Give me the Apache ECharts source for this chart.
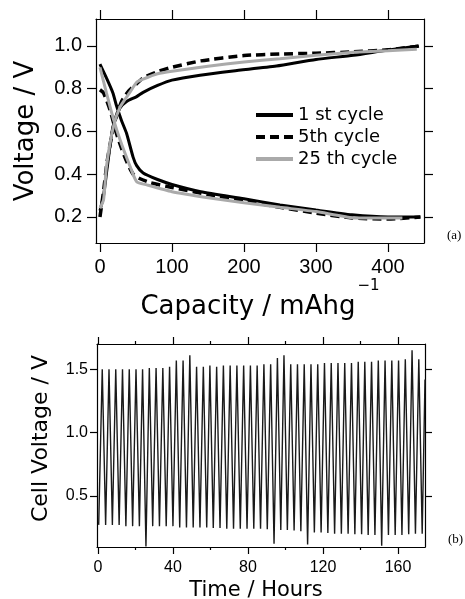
<!DOCTYPE html>
<html>
<head>
<meta charset="utf-8">
<script src="https://cdn.jsdelivr.net/npm/echarts@6/dist/echarts.min.js"></script>
<style>
html,body{margin:0;padding:0;background:#fff;}
#c{width:465px;height:599px;}
</style>
</head>
<body>
<div id="c"></div>
<script>
// ---------- Panel (a): voltage vs capacity ----------
const capTicks = [0, 100, 200, 300, 400];
const voltTicks = [0.2, 0.4, 0.6, 0.8, 1.0];

const charge1Cap = [0, 5, 10, 18, 28, 37, 51, 60, 80, 100, 139, 185, 245, 300, 352, 393, 442];
const charge1V   = [0.23, 0.3, 0.43, 0.62, 0.71, 0.74, 0.763, 0.783, 0.815, 0.84, 0.863, 0.883, 0.906, 0.937, 0.956, 0.977, 1.0];
const charge5Cap = [0, 5, 10, 20, 30, 40, 50, 60, 80, 100, 140, 200, 250, 300, 350, 400, 445];
const charge5V   = [0.2, 0.32, 0.46, 0.64, 0.74, 0.79, 0.82, 0.85, 0.88, 0.9, 0.93, 0.955, 0.962, 0.966, 0.972, 0.982, 1.0];
const charge25Cap = [0, 5, 9, 18.5, 28, 42, 51, 60, 80, 100, 150, 200, 250, 300, 352, 400, 440];
const charge25V   = [0.24, 0.28, 0.435, 0.62, 0.715, 0.785, 0.83, 0.845, 0.87, 0.882, 0.905, 0.925, 0.94, 0.956, 0.97, 0.978, 0.985];

const dis1Cap = [0, 9, 18, 23, 30, 37, 46, 51, 60, 80, 100, 140, 200, 250, 300, 350, 400, 445];
const dis1V   = [0.915, 0.85, 0.78, 0.72, 0.65, 0.59, 0.48, 0.44, 0.405, 0.375, 0.352, 0.318, 0.285, 0.256, 0.232, 0.21, 0.2, 0.2];
const dis5Cap = [0, 5, 14, 23, 30, 37, 46, 55, 70, 100, 150, 200, 250, 300, 350, 400, 445];
const dis5V   = [0.795, 0.78, 0.7, 0.59, 0.52, 0.46, 0.4, 0.38, 0.36, 0.338, 0.305, 0.275, 0.245, 0.218, 0.195, 0.19, 0.2];
const dis25Cap = [0, 9, 18.5, 28, 42, 51, 65, 100, 150, 200, 250, 300, 356, 420];
const dis25V   = [0.9, 0.78, 0.66, 0.56, 0.435, 0.365, 0.35, 0.318, 0.29, 0.266, 0.245, 0.225, 0.195, 0.195];

const cycleNames = ['1 st cycle', '5th cycle', '25 th cycle'];

// ---------- Panel (b): cell voltage vs time ----------
const timeTicks = [0, 40, 80, 120, 160];
const timeMinorTicks = [20, 60, 100, 140];
const cellTicks = [0.5, 1.0, 1.5];

const startPoint = [0.4, 0.27];
const endPoint = [174.4, 1.42];
const peakT = [2.3, 5.9, 9.5, 13.1, 16.7, 20.3, 23.8, 27.4, 31.0, 34.6, 38.2, 41.8, 45.4, 49.0, 52.6, 56.2,
  59.7, 63.3, 66.9, 70.5, 74.1, 77.7, 81.3, 84.9, 88.5, 92.1, 95.7, 99.2, 102.8, 106.4, 110.0, 113.6,
  117.2, 120.8, 124.4, 128.0, 131.6, 135.2, 138.8, 142.3, 145.9, 149.5, 153.1, 156.7, 160.3, 163.9, 167.5, 171.1];
const peakV = [1.50, 1.50, 1.50, 1.50, 1.50, 1.50, 1.50, 1.51, 1.51, 1.51, 1.52, 1.57, 1.57, 1.61, 1.52, 1.52,
  1.53, 1.52, 1.53, 1.53, 1.53, 1.53, 1.53, 1.53, 1.54, 1.54, 1.59, 1.61, 1.54, 1.54, 1.54, 1.54,
  1.54, 1.55, 1.55, 1.55, 1.55, 1.55, 1.56, 1.56, 1.56, 1.57, 1.57, 1.57, 1.57, 1.58, 1.65, 1.58];
const troughT = [4.1, 7.7, 11.3, 14.9, 18.5, 22.1, 25.6, 29.2, 32.8, 36.4, 40.0, 43.6, 47.2, 50.8, 54.4, 58.0,
  61.5, 65.1, 68.7, 72.3, 75.9, 79.5, 83.1, 86.7, 90.3, 93.9, 97.5, 101.0, 104.6, 108.2, 111.8, 115.4,
  119.0, 122.6, 126.2, 129.8, 133.4, 137.0, 140.6, 144.1, 147.7, 151.3, 154.9, 158.5, 162.1, 165.7, 169.3, 172.9];
const troughV = [0.27, 0.27, 0.27, 0.26, 0.26, 0.26, 0.10, 0.26, 0.26, 0.26, 0.26, 0.25, 0.25, 0.25, 0.25, 0.25,
  0.245, 0.245, 0.24, 0.24, 0.24, 0.24, 0.24, 0.24, 0.235, 0.12, 0.23, 0.23, 0.225, 0.22, 0.115, 0.21,
  0.21, 0.205, 0.2, 0.2, 0.2, 0.195, 0.195, 0.19, 0.19, 0.105, 0.19, 0.19, 0.19, 0.195, 0.2, 0.2];

// ---------- build ----------
function pairs(xs, ys) { return xs.map((x, i) => [x, ys[i]]); }
const cellData = [startPoint];
for (let i = 0; i < peakT.length; i++) {
  cellData.push([peakT[i], peakV[i]]);
  cellData.push([troughT[i], troughV[i]]);
}
cellData.push(endPoint);

const TF = "'Liberation Sans', Arial, sans-serif";
const NF = "'DejaVu Sans', Verdana, sans-serif";
const lineC = '#000';

function frameAxis(extra) {
  return Object.assign({
    type: 'value',
    splitLine: { show: false },
    axisLine: { show: true, onZero: false, lineStyle: { color: lineC, width: 1.2 } },
    axisTick: { show: true, inside: false, lineStyle: { color: lineC, width: 1.2 } },
    axisLabel: { show: false },
    nameMoveOverlap: false
  }, extra);
}

const styles = [
  { color: '#000', width: 3, type: 'solid' },
  { color: '#000', width: 3.5, type: [9, 5] },
  { color: '#aaaaaa', width: 3, type: 'solid' }
];
const chargeSets = [pairs(charge1Cap, charge1V), pairs(charge5Cap, charge5V), pairs(charge25Cap, charge25V)];
const disSets = [pairs(dis1Cap, dis1V), pairs(dis5Cap, dis5V), pairs(dis25Cap, dis25V)];

const series = [];
for (let k = 0; k < 3; k++) {
  [chargeSets[k], disSets[k]].forEach(d => {
    series.push({
      name: cycleNames[k], type: 'line', xAxisIndex: 0, yAxisIndex: 0,
      data: d, showSymbol: false, symbol: 'none', smooth: 0.2,
      lineStyle: { color: styles[k].color, width: styles[k].width, type: styles[k].type },
      itemStyle: { color: styles[k].color },
      z: 2 + k
    });
  });
}
series.push({
  name: 'cell', type: 'line', xAxisIndex: 2, yAxisIndex: 2,
  data: cellData, showSymbol: false, symbol: 'none',
  lineStyle: { color: '#1a1a1a', width: 1.4 }, z: 2
});

const option = {
  animation: false,
  backgroundColor: '#fff',
  grid: [
    { left: 96, top: 19, width: 328, height: 224, outerBoundsMode: 'none', containLabel: false },
    { left: 97, top: 344, width: 328, height: 203, outerBoundsMode: 'none', containLabel: false }
  ],
  legend: {
    data: cycleNames, orient: 'vertical', left: 249, top: 101,
    itemWidth: 37, itemHeight: 14, itemGap: 4,
    itemStyle: { opacity: 0 },
    lineStyle: { width: 4 },
    textStyle: { fontFamily: NF, fontSize: 18, color: '#000' }
  },
  xAxis: [
    frameAxis({
      gridIndex: 0, position: 'bottom', min: -5.5, max: 450,
      axisTick: { show: true, inside: false, length: 9, customValues: capTicks, lineStyle: { color: lineC, width: 1.2 } },
      axisLabel: { show: true, customValues: capTicks, margin: 14, fontFamily: TF, fontSize: 20, color: '#000' },
      name: '{m|Capacity / mAhg}{s|−1}', nameLocation: 'middle', nameGap: 35,
      nameTextStyle: {
        fontFamily: NF, fontSize: 26, color: '#000',
        rich: {
          m: { fontFamily: NF, fontSize: 26, lineHeight: 28, verticalAlign: 'bottom', color: '#000' },
          s: { fontFamily: NF, fontSize: 15, lineHeight: 42, verticalAlign: 'top', padding: [1, 0, 22, 2], color: '#000' }
        }
      }
    }),
    frameAxis({
      gridIndex: 0, position: 'top', min: -5.5, max: 450,
      axisTick: { show: true, inside: false, length: 9, customValues: capTicks, lineStyle: { color: lineC, width: 1.2 } }
    }),
    frameAxis({
      gridIndex: 1, position: 'bottom', min: -0.5, max: 174.4,
      axisTick: { show: true, inside: false, length: 7, customValues: timeTicks, lineStyle: { color: lineC, width: 1.2 } },
      axisLabel: { show: true, customValues: timeTicks, margin: 13, fontFamily: TF, fontSize: 16, color: '#000' },
      name: 'Time / Hours', nameLocation: 'middle', nameGap: 33,
      nameTextStyle: { fontFamily: NF, fontSize: 21, color: '#000', padding: [0, 10, 0, 0] }
    }),
    frameAxis({
      gridIndex: 1, position: 'bottom', min: -0.5, max: 174.4,
      axisLine: { show: false },
      axisTick: { show: true, inside: false, length: 3, customValues: timeMinorTicks, lineStyle: { color: lineC, width: 1.2 } }
    }),
    frameAxis({
      gridIndex: 1, position: 'top', min: -0.5, max: 174.4,
      axisTick: { show: true, inside: false, length: 7, customValues: timeTicks, lineStyle: { color: lineC, width: 1.2 } }
    }),
    frameAxis({
      gridIndex: 1, position: 'top', min: -0.5, max: 174.4,
      axisLine: { show: false },
      axisTick: { show: true, inside: false, length: 3, customValues: timeMinorTicks, lineStyle: { color: lineC, width: 1.2 } }
    })
  ],
  yAxis: [
    frameAxis({
      gridIndex: 0, position: 'left', min: 0.078, max: 1.126,
      axisTick: { show: true, inside: false, length: 9, customValues: voltTicks, lineStyle: { color: lineC, width: 1.2 } },
      axisLabel: { show: true, customValues: voltTicks, margin: 14, fontFamily: TF, fontSize: 20, color: '#000',
        formatter: v => v.toFixed(1) },
      name: 'Voltage / V', nameLocation: 'middle', nameGap: 57,
      nameTextStyle: { fontFamily: NF, fontSize: 26, color: '#000' }
    }),
    frameAxis({
      gridIndex: 0, position: 'right', min: 0.078, max: 1.126,
      axisTick: { show: true, inside: false, length: 9, customValues: voltTicks, lineStyle: { color: lineC, width: 1.2 } }
    }),
    frameAxis({
      gridIndex: 1, position: 'left', min: 0.095, max: 1.70,
      axisTick: { show: true, inside: false, length: 7, customValues: cellTicks, lineStyle: { color: lineC, width: 1.2 } },
      axisLabel: { show: true, customValues: cellTicks, margin: 9, fontFamily: TF, fontSize: 16, color: '#000',
        formatter: v => v.toFixed(1) },
      name: 'Cell Voltage / V', nameLocation: 'middle', nameGap: 45,
      nameTextStyle: { fontFamily: NF, fontSize: 22, color: '#000', padding: [0, 0, 0, 14] }
    }),
    frameAxis({
      gridIndex: 1, position: 'right', min: 0.095, max: 1.70,
      axisTick: { show: true, inside: false, length: 7, customValues: cellTicks, lineStyle: { color: lineC, width: 1.2 } }
    })
  ],
  graphic: [
    { type: 'text', left: 447, top: 229, style: { text: '(a)', font: '13px "Liberation Serif", serif', fill: '#000' } },
    { type: 'text', left: 448, top: 533, style: { text: '(b)', font: '13px "Liberation Serif", serif', fill: '#000' } }
  ],
  series: series
};

const chart = echarts.init(document.getElementById('c'), null, { renderer: 'canvas' });
chart.setOption(option);
</script>
</body>
</html>
